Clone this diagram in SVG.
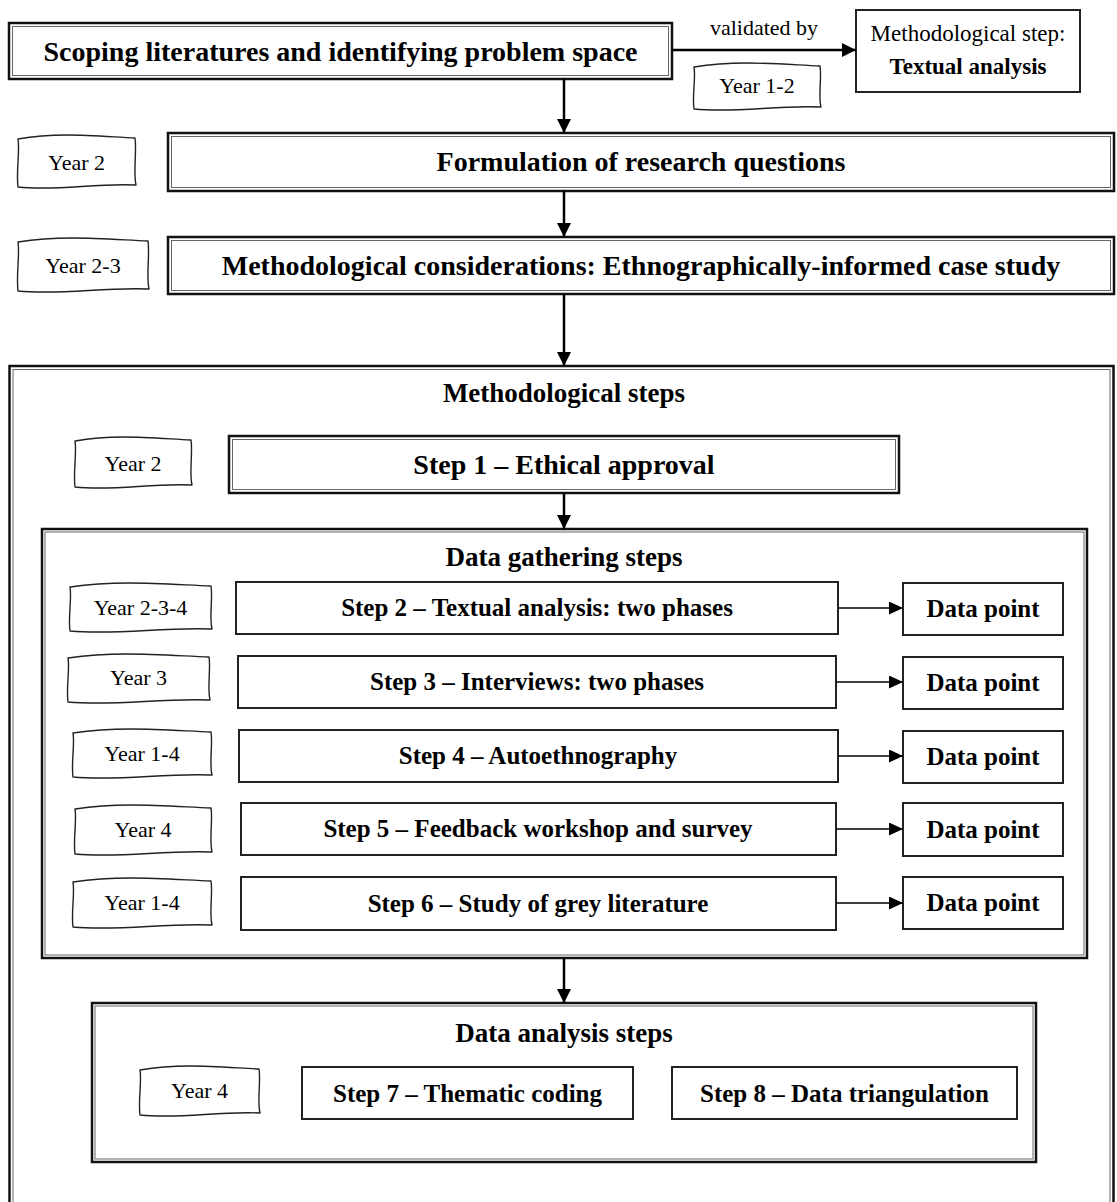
<svg xmlns="http://www.w3.org/2000/svg" width="1117" height="1202" viewBox="0 0 1117 1202">
<defs>
<marker id="ah" markerUnits="userSpaceOnUse" markerWidth="16" markerHeight="16" refX="14" refY="7" orient="auto"><path d="M0,0 L14,7 L0,14 Z" fill="#000"/></marker>
<marker id="ahs" markerUnits="userSpaceOnUse" markerWidth="15" markerHeight="14" refX="14" refY="6.5" orient="auto"><path d="M0,0 L14,6.5 L0,13 Z" fill="#000"/></marker>
<style>
.t{font-family:"Liberation Serif","Times New Roman",serif;fill:#000;text-anchor:middle}
.b{font-weight:bold}
.f28{font-size:28px}
.f27{font-size:27px}
.f25{font-size:25px}
.f23{font-size:23px}
.f22{font-size:22px}
.o{fill:#fff;stroke:#111;stroke-width:2.5}
.i{fill:none;stroke:#666;stroke-width:1}
.s{fill:#fff;stroke:#222;stroke-width:2}
.tag{fill:#fff;stroke:#222;stroke-width:1.4;stroke-linejoin:round}
.c{fill:none;stroke:#000;stroke-width:2.5}
.cs{fill:none;stroke:#000;stroke-width:1.6}
</style>
</defs>

<g id="containers">
<g id="methodological-steps">
<rect class="o" x="9.5" y="366" width="1104" height="900"/>
<rect class="i" x="13" y="369.5" width="1097" height="893"/>
<text class="t b f27" x="564" y="402">Methodological steps</text>
</g>
<g id="data-gathering">
<rect class="o" x="42" y="529" width="1045" height="429"/>
<rect class="i" x="45" y="532" width="1039" height="423"/>
<text class="t b f27" x="564" y="566">Data gathering steps</text>
</g>
<g id="data-analysis">
<rect class="o" x="92" y="1003" width="944" height="159"/>
<rect class="i" x="95" y="1006" width="938" height="153"/>
<text class="t b f27" x="564" y="1042">Data analysis steps</text>
</g>
</g>

<g id="scoping">
<rect class="o" x="9" y="23" width="663" height="56"/>
<rect class="i" x="12.5" y="26.5" width="656" height="49"/>
<text class="t b f28" x="340.5" y="61">Scoping literatures and identifying problem space</text>
</g>
<g id="textual-step">
<rect class="s" x="856" y="10" width="224" height="82"/>
<text class="t f23" x="968" y="41">Methodological step:</text>
<text class="t b f23" x="968" y="74">Textual analysis</text>
</g>
<g id="validated-label"><text class="t f22" x="764" y="35">validated by</text></g>
<g id="tag-y12">
<path class="tag" d="M694,67 C738,60 776,64 820,66 C822,77 818,96 821,107 C776,105 738,113 694,109 C692,96 696,77 694,67 Z"/>
<text class="t f22" x="757" y="93">Year 1-2</text>
</g>
<g id="tag-y2a">
<path class="tag" d="M18,139 C59,132 94,136 135,138 C137,151 133,172 136,185 C94,183 59,191 18,187 C16,172 20,151 18,139 Z"/>
<text class="t f22" x="76.5" y="170">Year 2</text>
</g>
<g id="formulation">
<rect class="o" x="168" y="133" width="946" height="58"/>
<rect class="i" x="171.5" y="136.5" width="939" height="51"/>
<text class="t b f28" x="641" y="171">Formulation of research questions</text>
</g>
<g id="tag-y23">
<path class="tag" d="M18,242 C63.5,235 102.5,239 148,241 C150,254 146,276 149,289 C102.5,287 63.5,295 18,291 C16,276 20,254 18,242 Z"/>
<text class="t f22" x="83" y="273">Year 2-3</text>
</g>
<g id="considerations">
<rect class="o" x="168" y="237" width="946" height="57"/>
<rect class="i" x="171.5" y="240.5" width="939" height="50"/>
<text class="t b f28" x="641" y="275">Methodological considerations: Ethnographically-informed case study</text>
</g>

<g id="tag-y2b">
<path class="tag" d="M75,441 C115.6,434 150.4,438 191,440 C193,452 189,473 192,485 C150.4,483 115.6,491 75,487 C73,473 77,452 75,441 Z"/>
<text class="t f22" x="133" y="471">Year 2</text>
</g>
<g id="step1">
<rect class="o" x="229" y="436" width="670" height="57"/>
<rect class="i" x="232.5" y="439.5" width="663" height="50"/>
<text class="t b f28" x="564" y="474">Step 1 – Ethical approval</text>
</g>

<g id="tag-y234">
<path class="tag" d="M70,587 C119.4,580 161.6,584 211,586 C213,598 209,617 212,629 C161.6,627 119.4,635 70,631 C68,617 72,598 70,587 Z"/>
<text class="t f22" x="140.5" y="615">Year 2-3-4</text>
</g>
<g id="step2">
<rect class="s" x="236" y="582" width="602" height="52"/>
<text class="t b f25" x="537" y="616">Step 2 – Textual analysis: two phases</text>
</g>
<g id="dp2">
<rect class="s" x="903" y="583" width="160" height="52"/>
<text class="t b f25" x="983" y="617">Data point</text>
</g>

<g id="tag-y3">
<path class="tag" d="M68,658 C117.4,651 159.6,655 209,657 C211,669 207,688 210,700 C159.6,698 117.4,706 68,702 C66,688 70,669 68,658 Z"/>
<text class="t f22" x="138.5" y="685">Year 3</text>
</g>
<g id="step3">
<rect class="s" x="238" y="656" width="598" height="52"/>
<text class="t b f25" x="537" y="690">Step 3 – Interviews: two phases</text>
</g>
<g id="dp3">
<rect class="s" x="903" y="657" width="160" height="52"/>
<text class="t b f25" x="983" y="691">Data point</text>
</g>

<g id="tag-y14a">
<path class="tag" d="M73,733 C121.3,726 162.7,730 211,732 C213,744 209,763 212,775 C162.7,773 121.3,781 73,777 C71,763 75,744 73,733 Z"/>
<text class="t f22" x="142" y="761">Year 1-4</text>
</g>
<g id="step4">
<rect class="s" x="239" y="730" width="599" height="52"/>
<text class="t b f25" x="538" y="764">Step 4 – Autoethnography</text>
</g>
<g id="dp4">
<rect class="s" x="903" y="731" width="160" height="52"/>
<text class="t b f25" x="983" y="765">Data point</text>
</g>

<g id="tag-y4a">
<path class="tag" d="M75,809 C122.6,802 163.4,806 211,808 C213,820 209,840 212,852 C163.4,850 122.6,858 75,854 C73,840 77,820 75,809 Z"/>
<text class="t f22" x="143" y="837">Year 4</text>
</g>
<g id="step5">
<rect class="s" x="241" y="803" width="595" height="52"/>
<text class="t b f25" x="538" y="837">Step 5 – Feedback workshop and survey</text>
</g>
<g id="dp5">
<rect class="s" x="903" y="803" width="160" height="53"/>
<text class="t b f25" x="983" y="838">Data point</text>
</g>

<g id="tag-y14b">
<path class="tag" d="M73,882 C121.3,875 162.7,879 211,881 C213,893 209,913 212,925 C162.7,923 121.3,931 73,927 C71,913 75,893 73,882 Z"/>
<text class="t f22" x="142" y="910">Year 1-4</text>
</g>
<g id="step6">
<rect class="s" x="241" y="877" width="595" height="53"/>
<text class="t b f25" x="538" y="912">Step 6 – Study of grey literature</text>
</g>
<g id="dp6">
<rect class="s" x="903" y="877" width="160" height="52"/>
<text class="t b f25" x="983" y="911">Data point</text>
</g>

<g id="tag-y4b">
<path class="tag" d="M140,1070 C181.7,1063 217.4,1067 259,1069 C261,1081 257,1101 260,1113 C217.4,1111 181.7,1119 140,1115 C138,1101 142,1081 140,1070 Z"/>
<text class="t f22" x="199.5" y="1098">Year 4</text>
</g>
<g id="step7">
<rect class="s" x="302" y="1067" width="331" height="52"/>
<text class="t b f25" x="467.5" y="1102">Step 7 – Thematic coding</text>
</g>
<g id="step8">
<rect class="s" x="672" y="1067" width="345" height="52"/>
<text class="t b f25" x="844.5" y="1102">Step 8 – Data triangulation</text>
</g>

<g id="connectors">
<line class="c" x1="672" y1="50" x2="856" y2="50" marker-end="url(#ah)"/>
<line class="c" x1="564" y1="79" x2="564" y2="133" marker-end="url(#ah)"/>
<line class="c" x1="564" y1="191" x2="564" y2="237" marker-end="url(#ah)"/>
<line class="c" x1="564" y1="294" x2="564" y2="366" marker-end="url(#ah)"/>
<line class="c" x1="564" y1="493" x2="564" y2="529" marker-end="url(#ah)"/>
<line class="c" x1="564" y1="958" x2="564" y2="1003" marker-end="url(#ah)"/>
<line class="cs" x1="838" y1="608" x2="903" y2="608" marker-end="url(#ahs)"/>
<line class="cs" x1="836" y1="682" x2="903" y2="682" marker-end="url(#ahs)"/>
<line class="cs" x1="838" y1="756" x2="903" y2="756" marker-end="url(#ahs)"/>
<line class="cs" x1="836" y1="829" x2="903" y2="829" marker-end="url(#ahs)"/>
<line class="cs" x1="836" y1="903" x2="903" y2="903" marker-end="url(#ahs)"/>
</g>
</svg>
